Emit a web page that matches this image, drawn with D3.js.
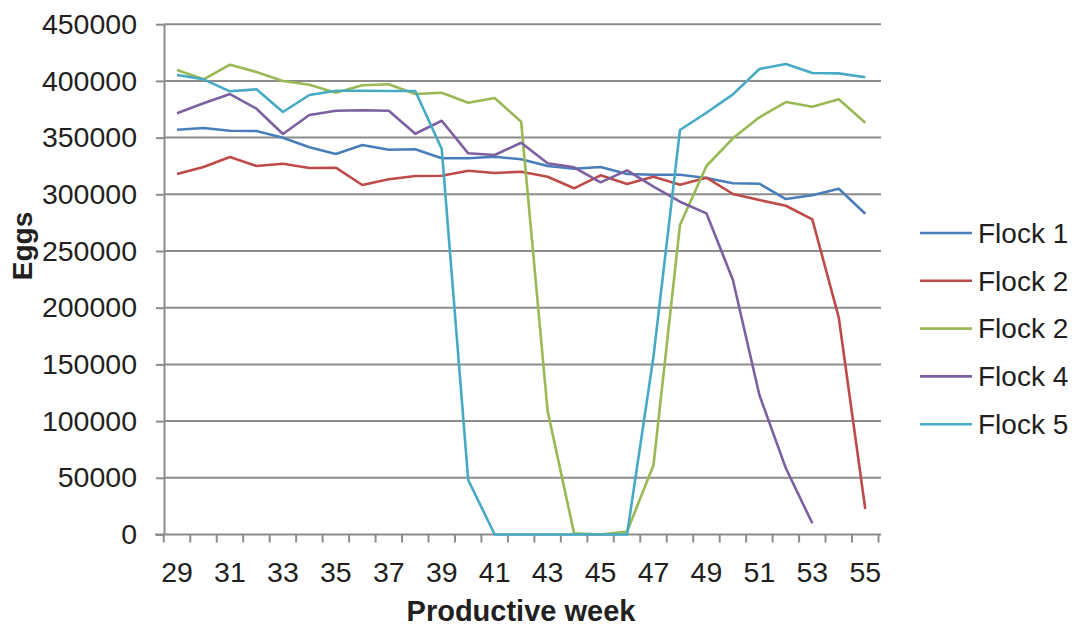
<!DOCTYPE html>
<html><head><meta charset="utf-8">
<script src="https://cdn.jsdelivr.net/npm/d3@7"></script>
<style>
body{margin:0;background:#fff;}
text{font-family:"Liberation Sans",Arial,sans-serif;fill:#231F20;}
</style></head>
<body><svg id="c" width="1079" height="627"></svg>
<script>
const weeks = d3.range(29, 56);
const seriesNames = ["Flock 1","Flock 2","Flock 2","Flock 4","Flock 5"];
const colors = ["#4A7EBB","#BE4B48","#98B954","#7D60A0","#46AAC5"];
const flock1 = [356950,358450,356070,355800,349900,341430,335530,343460,339320,339670,331730,331730,333140,330850,324950,322560,324060,317890,317270,317270,314360,309690,309340,295840,299110,304930,282880];
const flock2 = [317890,324060,332880,324940,326970,323180,323450,308190,313210,316120,316390,320800,318770,319920,315510,305280,316740,309070,315510,308450,314630,300250,294960,289930,277940,191180,22490];
const flock3 = [409600,401400,414270,407830,399900,396640,389580,396100,396990,388430,389580,380760,384910,364010,108900,1000,0,2500,61290,272920,324950,349370,367890,381380,377230,383760,363130];
const flock4 = [371420,380230,388430,375470,353160,369920,373710,374060,373710,353430,364890,336140,334650,345490,327320,323800,310570,321150,306700,293470,283230,224420,123010,58370,9880,null,null];
const flock5 = [405190,401400,390810,392570,372560,387550,391340,391340,391080,391080,339930,48060,0,0,0,0,0,0,157000,356690,371940,388170,410480,414890,406950,406660,403160];
const yTicks = [0,50000,100000,150000,200000,250000,300000,350000,400000,450000];
const xTickLabels = weeks.filter(w => w % 2 === 1);

const series = [flock1,flock2,flock3,flock4,flock5];
const svg = d3.select("#c");
const x = d3.scaleBand().domain(weeks).range([163.8, 878.5]);
const y = d3.scaleLinear().domain([0,450000]).range([534.5, 24.2]);
const grid = "#8C8C8C";

// gridlines
svg.append("g").selectAll("line").data(yTicks.filter(d=>d>0)).join("line")
  .attr("x1",164).attr("x2",881).attr("y1",d=>y(d)).attr("y2",d=>y(d))
  .attr("stroke",grid).attr("stroke-width",2);

// y axis
const ya = svg.append("g").attr("transform","translate(164,0)")
  .call(d3.axisLeft(y).tickValues(yTicks).tickFormat(d3.format("d")).tickSize(8).tickSizeOuter(0).tickPadding(19));
ya.select(".domain").attr("stroke",grid).attr("stroke-width",2);
ya.selectAll(".tick line").attr("stroke",grid).attr("stroke-width",2);
ya.selectAll("text").style("font-size","28.5px").attr("fill","#231F20");

// x axis
const xa = svg.append("g").attr("transform","translate(0,534.5)");
xa.append("line").attr("x1",155).attr("x2",881).attr("y1",0).attr("y2",0).attr("stroke",grid).attr("stroke-width",2);
const bounds = weeks.map(w=>x(w)).concat([x(55)+x.bandwidth()]);
xa.selectAll(".xt").data(bounds).join("line").attr("class","xt")
  .attr("x1",d=>d).attr("x2",d=>d).attr("y1",0).attr("y2",8).attr("stroke",grid).attr("stroke-width",2);
xa.selectAll(".xl").data(xTickLabels).join("text").attr("class","xl")
  .attr("x",d=>x(d)+x.bandwidth()/2).attr("y",47).attr("text-anchor","middle")
  .style("font-size","28.5px").text(d=>d);

// axis titles
svg.append("text").attr("x",521).attr("y",621).attr("text-anchor","middle")
  .style("font-size","29px").style("font-weight","bold").text("Productive week");
svg.append("text").attr("transform","translate(32,246) rotate(-90)").attr("text-anchor","middle")
  .style("font-size","28px").style("font-weight","bold").text("Eggs");

// lines
const line = d3.line().defined(d=>d[1]!=null).x(d=>x(d[0])+x.bandwidth()/2).y(d=>y(d[1]));
series.forEach((s,i)=>{
  svg.append("path").datum(weeks.map((w,j)=>[w,s[j]]))
    .attr("d",line).attr("fill","none").attr("stroke",colors[i]).attr("stroke-width",2.6)
    .attr("stroke-linejoin","round");
});

// legend
const lg = svg.append("g");
seriesNames.forEach((n,i)=>{
  const yy = 233 + i*47.8;
  lg.append("line").attr("x1",920).attr("x2",972).attr("y1",yy).attr("y2",yy).attr("stroke",colors[i]).attr("stroke-width",2.6);
  lg.append("text").attr("x",978).attr("y",yy).attr("dy","0.35em").style("font-size","28px").text(n);
});
</script></body></html>
